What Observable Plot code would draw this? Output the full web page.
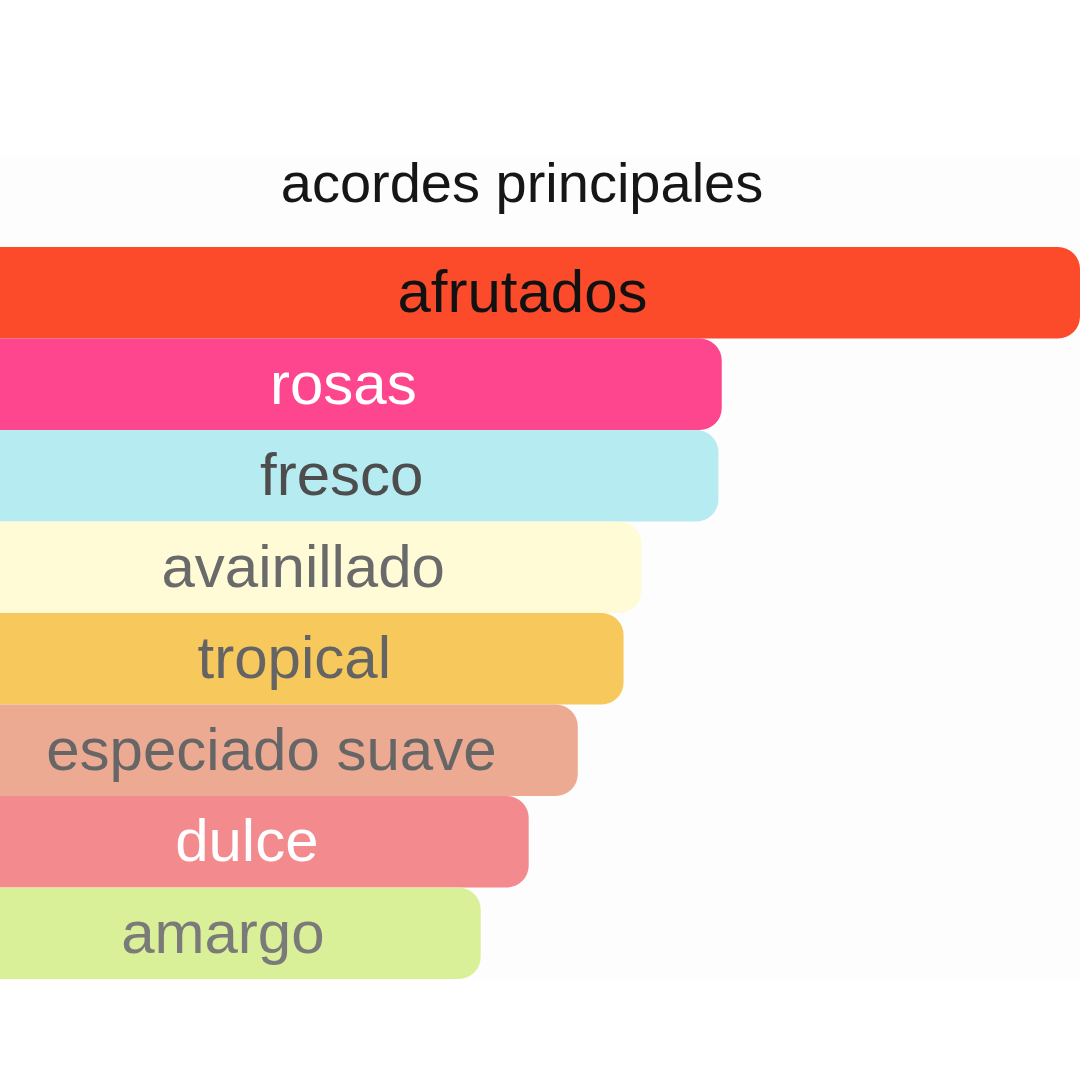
<!DOCTYPE html>
<html>
<head>
<meta charset="utf-8">
<script src="https://cdn.jsdelivr.net/npm/d3@7"></script>
<script src="https://cdn.jsdelivr.net/npm/@observablehq/plot@0.6"></script>
<style>
  html, body { margin: 0; padding: 0; background: #ffffff; }
  #wrap { width: 1080px; height: 1080px; overflow: hidden; position: relative; background: #ffffff; }
  #panel { position: absolute; left: 0; top: 157px; width: 1080px; height: 822px; background: #fdfdfd; }
  #title {
    position: relative; width: 1044px; height: 247px; box-sizing: border-box;
    padding-top: 151px; text-align: center;
    font-family: "Liberation Sans", Arial, sans-serif; font-size: 56px; line-height: 64px; color: #161616;
  }
  #chart { position: relative; }
  svg { display: block; overflow: hidden; }
</style>
</head>
<body>
<div id="wrap">
  <div id="panel"></div>
  <div id="title"></div>
  <div id="chart"></div>
</div>
<script>
const title = "acordes principales";
const accords = ["afrutados", "rosas", "fresco", "avainillado", "tropical", "especiado suave", "dulce", "amargo"];
const strengths = [100, 67.9, 67.6, 60.7, 59.1, 55.0, 50.6, 46.3];
const barColors = ["#fc4b2a", "#fe468e", "#b5ebf1", "#fffbd6", "#f7c85b", "#ecaa93", "#f38a8d", "#d9f098"];
const textColors = ["#111111", "#ffffff", "#4d4d4d", "#6a6a6a", "#646464", "#666666", "#ffffff", "#7a7a7a"];

document.getElementById("title").textContent = title;

const data = accords.map((name, i) => ({
  name, value: strengths[i], fill: barColors[i], ink: textColors[i]
}));

const chart = Plot.plot({
  width: 1080,
  height: 833,
  marginTop: 0,
  marginBottom: 101,
  marginLeft: 0,
  marginRight: 0,
  style: { background: "transparent", fontFamily: "Liberation Sans, Arial, sans-serif" },
  x: { domain: [0, 100], range: [-36, 1080], axis: null },
  y: { domain: accords, padding: 0, round: false, axis: null },
  marks: [
    Plot.barX(data, { x1: 0, x2: "value", y: "name", fill: d => d.fill, rx: 22, inset: 0 }),
    Plot.text(data, {
      x: d => d.value / 2, y: "name", text: "name", fill: d => d.ink,
      fontSize: 60, textAnchor: "middle", lineAnchor: "middle"
    })
  ]
});
document.getElementById("chart").appendChild(chart);
</script>
</body>
</html>
